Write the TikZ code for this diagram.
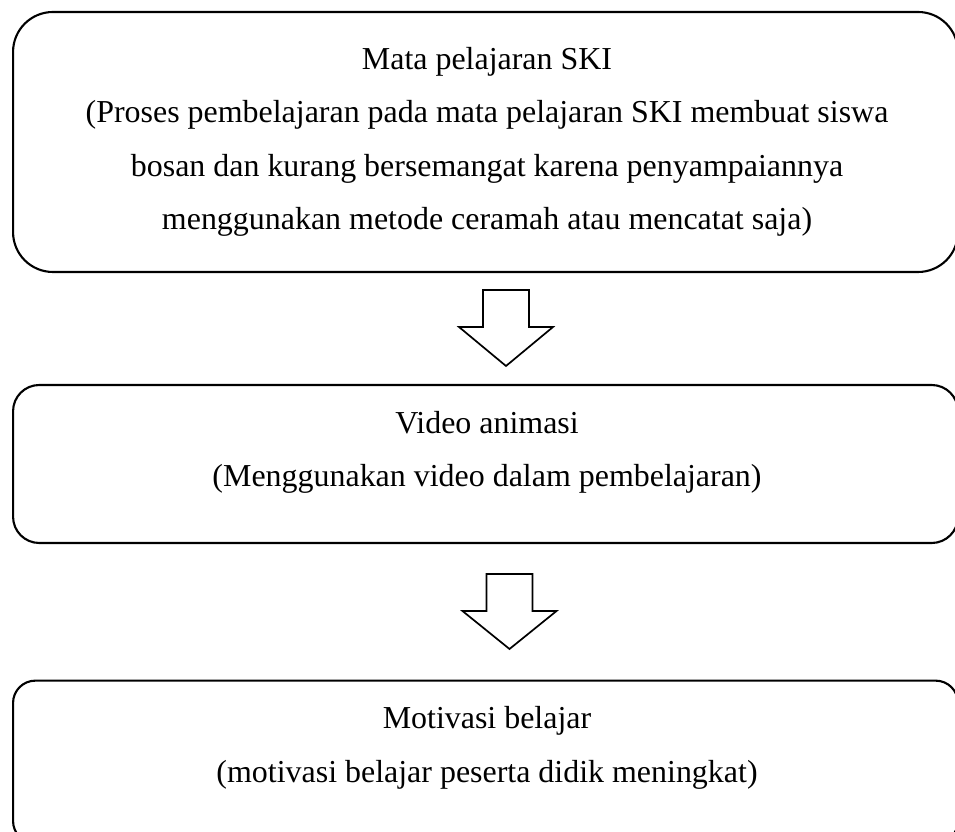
\documentclass[tikz,border=0pt]{standalone}
\usepackage{fontspec}
\setmainfont{Liberation Serif}
\begin{document}
\begin{tikzpicture}[x=0.381pt,y=-0.381pt,
  box/.style={draw, line width=0.8pt, rectangle, inner sep=0pt},
  txt/.style={align=center, inner sep=0pt, anchor=base,
    font=\fontsize{12.17pt}{20.4pt}\selectfont},
  blockarrow/.style={draw, line width=0.65pt, line join=miter, fill=white}]
\useasboundingbox (0,0) rectangle (955,832);
\clip (0,0) rectangle (955,832);
% boxes
\node[box, rounded corners=15.2pt, minimum width=360pt, minimum height=99.06pt] (b1) at (485.5,142) {};
\node[box, rounded corners=10pt, minimum width=360pt, minimum height=60.2pt] (b2) at (485.5,464) {};
\node[box, rounded corners=8.5pt, minimum width=360pt, minimum height=62pt] (b3) at (485.5,762) {};
% texts (base anchor = baseline of the last line)
\node[txt] (t1) at (487,230) {Mata pelajaran SKI\\(Proses pembelajaran pada mata pelajaran SKI membuat siswa\\bosan dan kurang bersemangat karena penyampaiannya\\menggunakan metode ceramah atau mencatat saja)};
\node[txt] (t2) at (487,487) {Video animasi\\(Menggunakan video dalam pembelajaran)};
\node[txt] (t3) at (487,782) {Motivasi belajar\\(motivasi belajar peserta didik meningkat)};
% block arrows
\coordinate (a1) at (506,290);
\coordinate (a2) at (509.5,574);
\draw[blockarrow] (a1) ++(-23,0) -- ++(46,0) -- ++(0,37) -- ++(24,0) -- ++(-47,39) -- ++(-47,-39) -- ++(24,0) -- cycle;
\draw[blockarrow] (a2) ++(-23,0) -- ++(46,0) -- ++(0,37) -- ++(24,0) -- ++(-47,38) -- ++(-47,-38) -- ++(24,0) -- cycle;
\end{tikzpicture}
\end{document}
